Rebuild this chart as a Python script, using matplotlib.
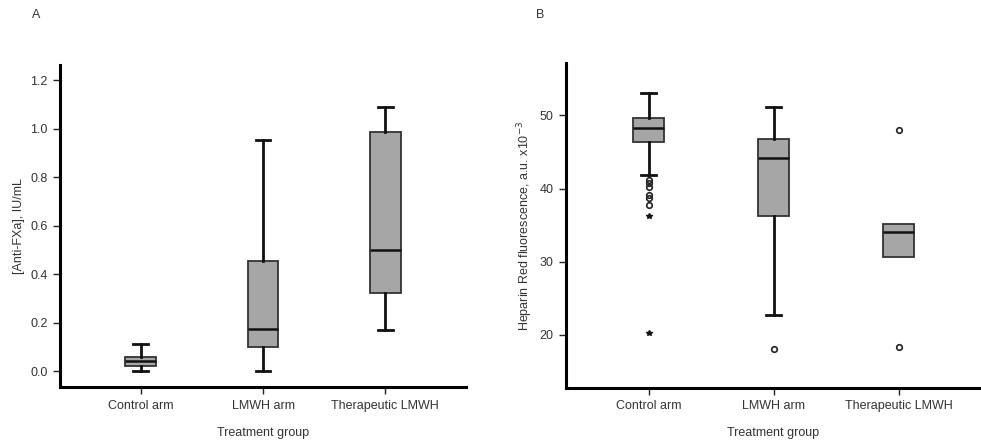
import matplotlib
matplotlib.use('Agg')
import matplotlib.pyplot as plt

plt.rcParams['font.family'] = ['Liberation Sans', 'DejaVu Sans']

groups = ["Control arm", "LMWH arm", "Therapeutic LMWH"]

# panel A: anti-FXa, IU/mL
a_whislo = [0.0, 0.0, 0.17]
a_q1 = [0.021, 0.10, 0.323]
a_med = [0.04, 0.175, 0.50]
a_q3 = [0.058, 0.453, 0.985]
a_whishi = [0.112, 0.955, 1.09]

# panel B: Heparin Red fluorescence
b_whislo = [41.8, 22.7, 30.7]
b_q1 = [46.4, 36.2, 30.7]
b_med = [48.3, 44.2, 34.0]
b_q3 = [49.7, 46.7, 35.1]
b_whishi = [53.1, 51.1, 35.1]
b_circles = [[41.2, 40.7, 40.2, 39.1, 38.7, 37.7], [18.1], [48.0, 18.3]]
b_stars = [[36.3, 20.2], [], []]

TXT = '#333333'


def stats(lo, q1, med, q3, hi, fl=None):
    out = []
    for i in range(len(lo)):
        out.append(dict(whislo=lo[i], q1=q1[i], med=med[i], q3=q3[i],
                        whishi=hi[i], fliers=fl[i] if fl else [],
                        label=groups[i]))
    return out


def style(ax):
    for s in ['top', 'right']:
        ax.spines[s].set_visible(False)
    for s in ['left', 'bottom']:
        ax.spines[s].set_linewidth(2.2)
    ax.tick_params(direction='out', length=5, width=1, colors='#222222',
                   labelcolor=TXT, labelsize=9, pad=4)
    ax.set_xlim(0.34, 3.66)
    ax.set_xlabel('Treatment group', fontsize=9, color=TXT, labelpad=11)


def draw(ax, st):
    return ax.bxp(st, positions=[1, 2, 3], widths=0.25, patch_artist=True,
                  boxprops=dict(facecolor='#a6a6a6', edgecolor='#333333', linewidth=1.3),
                  medianprops=dict(color='#111111', linewidth=1.8),
                  whiskerprops=dict(color='#111111', linewidth=2.0),
                  capprops=dict(color='#111111', linewidth=2.0),
                  flierprops=dict(marker='o', markersize=4, markerfacecolor='none',
                                  markeredgecolor='#222222', markeredgewidth=1.2),
                  capwidths=0.12)


fig = plt.figure(figsize=(9.81, 4.43), dpi=100)
axA = fig.add_axes([0.0612, 0.126, 0.4139, 0.727])
axB = fig.add_axes([0.577, 0.125, 0.423, 0.732])

draw(axA, stats(a_whislo, a_q1, a_med, a_q3, a_whishi))
style(axA)
axA.set_ylim(-0.066, 1.262)
axA.set_yticks([0.0, 0.2, 0.4, 0.6, 0.8, 1.0, 1.2])
axA.set_yticklabels(['0.0', '0.2', '0.4', '0.6', '0.8', '1.0', '1.2'])
axA.set_ylabel('[Anti-FXa], IU/mL', fontsize=9, color=TXT, labelpad=4)

bpB = draw(axB, stats(b_whislo, b_q1, b_med, b_q3, b_whishi, b_circles))
# therapeutic group has no whisker beyond the box, so no caps either
bpB['caps'][4].set_visible(False)
bpB['caps'][5].set_visible(False)
for i, vals in enumerate(b_stars):
    if vals:
        axB.plot([i + 1] * len(vals), vals, linestyle='none', marker='*',
                 markersize=4, color='#111111')
style(axB)
axB.set_ylim(12.8, 57.1)
axB.set_yticks([20, 30, 40, 50])
axB.set_ylabel('Heparin Red fluorescence, a.u. x10$^{-3}$', fontsize=9,
               color=TXT, labelpad=3)

fig.text(0.033, 0.967, 'A', fontsize=9, color=TXT, va='center')
fig.text(0.546, 0.967, 'B', fontsize=9, color=TXT, va='center')

fig.savefig('out.png', dpi=100)
